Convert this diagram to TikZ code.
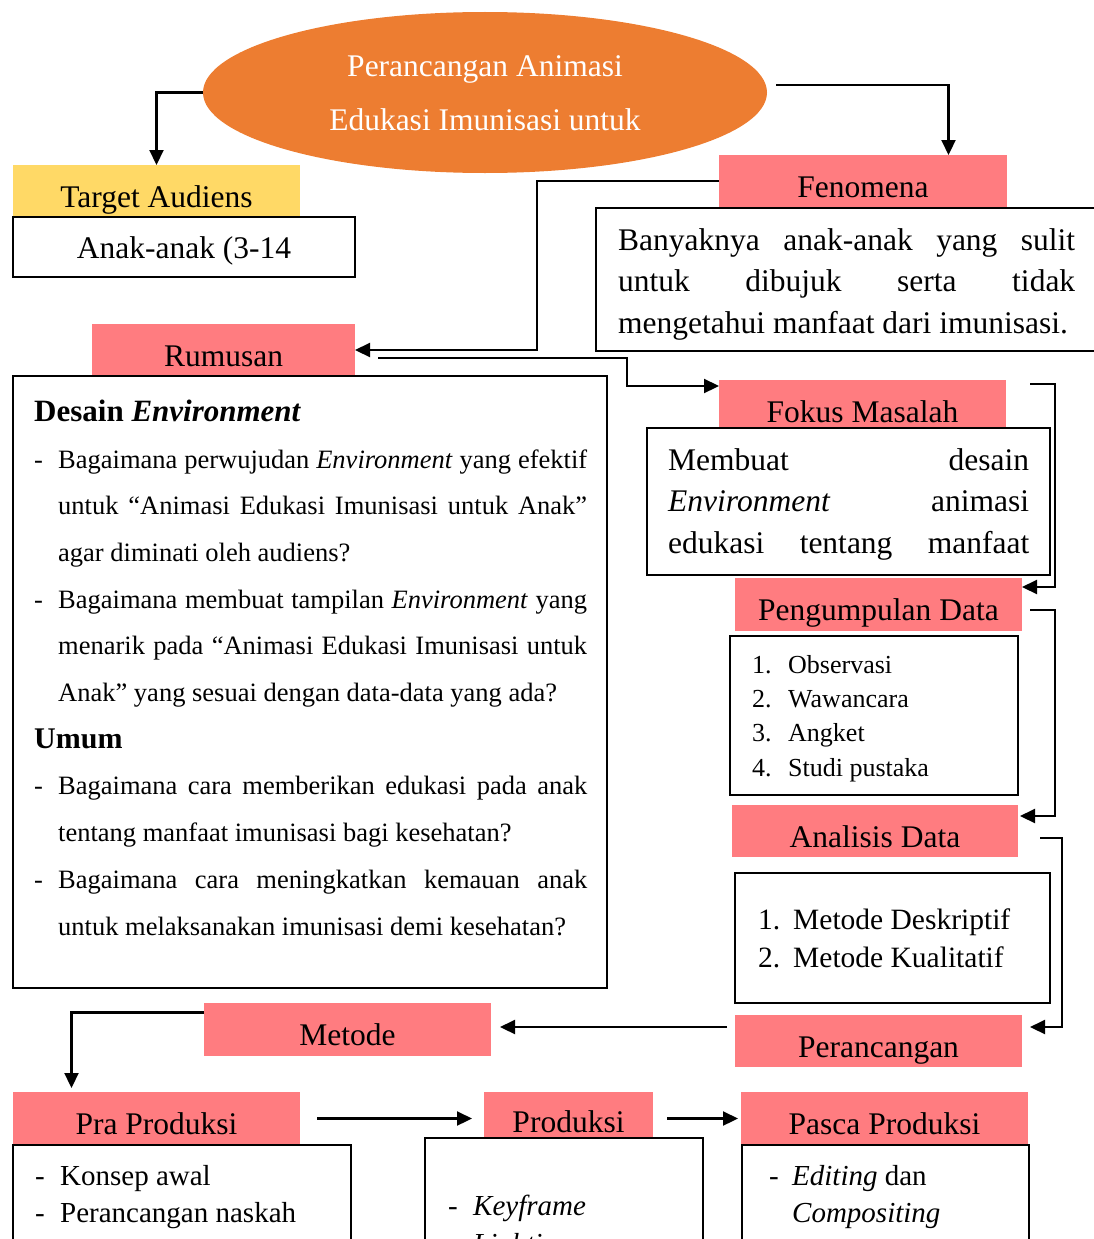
\documentclass[tikz,border=0pt]{standalone}
\usepackage{fontspec}
\setmainfont{Liberation Serif}
\usetikzlibrary{arrows.meta, shapes.geometric, calc}

\definecolor{oranye}{HTML}{ED7D31}
\definecolor{salmon}{HTML}{FF7C80}
\definecolor{kuning}{HTML}{FFD966}
\newcommand{\fsz}[2]{\fontsize{#1}{#2}\selectfont}

\begin{document}
\begin{tikzpicture}[x=1pt, y=-1pt,
    hdr/.style={fill=salmon, anchor=north west, minimum height=52pt, inner sep=0pt, outer sep=0pt,
                text height=32pt, text depth=0pt, font=\fsz{31.5}{38}},
    isi/.style={draw, line width=2.2pt, anchor=north west, inner sep=0pt, outer sep=0pt},
    teks/.style={anchor=base west, align=left, inner sep=0pt},
    conn/.style={line width=2.2pt, -{Triangle[length=15pt,width=14pt]}}]
    \useasboundingbox (0,0) rectangle (1093,1239);

    % judul (base = baseline of the last line)
    \node[ellipse, fill=oranye, minimum width=564pt, minimum height=161pt, inner sep=0pt] (judul) at (485,92.5) {};
    \node[font=\fsz{31.5}{54}, text=white, align=center, anchor=base, inner sep=0pt] (judulTeks) at (485,130) {Perancangan Animasi\\Edukasi Imunisasi untuk};

    % target audiens
    \node[hdr, fill=kuning, minimum width=287pt] (target) at (13,165) {Target Audiens};
    \node[isi, minimum width=342pt, minimum height=60pt, font=\fsz{31.5}{38}, text height=22pt, text depth=0pt] (anak) at (13,217) {Anak-anak (3-14};

    % fenomena
    \node[hdr, minimum width=288pt] (fenomena) at (719,155) {Fenomena};
    \node[isi, minimum width=510pt, minimum height=143pt] (fenomenaKotak) at (596,208) {};
    \node[teks, font=\fsz{31.5}{41.5}] (fenomenaTeks) at (618,333) {\makebox[457pt][s]{Banyaknya anak-anak yang sulit}\\
        \makebox[457pt][s]{untuk dibujuk serta tidak}\\
        mengetahui manfaat dari imunisasi.};

    % rumusan
    \node[hdr, minimum width=263pt] (rumusan) at (92,324) {Rumusan};
    \node[isi, minimum width=594pt, minimum height=612pt] (rumusanKotak) at (13,376) {};
    \node[teks, font=\fsz{26.5}{46.7}] (rumusanTeks) at (34,935) {{\fsz{31}{46.7}\bfseries Desain \textit{Environment}}\\
        \makebox[24pt][l]{-}\makebox[529pt][s]{Bagaimana perwujudan \textit{Environment} yang efektif}\\
        \hspace*{24pt}\makebox[529pt][s]{untuk “Animasi Edukasi Imunisasi untuk Anak”}\\
        \hspace*{24pt}agar diminati oleh audiens?\\
        \makebox[24pt][l]{-}\makebox[529pt][s]{Bagaimana membuat tampilan \textit{Environment} yang}\\
        \hspace*{24pt}\makebox[529pt][s]{menarik pada “Animasi Edukasi Imunisasi untuk}\\
        \hspace*{24pt}Anak” yang sesuai dengan data-data yang ada?\\
        {\fsz{30}{46.7}\bfseries Umum}\\
        \makebox[24pt][l]{-}\makebox[529pt][s]{Bagaimana cara memberikan edukasi pada anak}\\
        \hspace*{24pt}tentang manfaat imunisasi bagi kesehatan?\\
        \makebox[24pt][l]{-}\makebox[529pt][s]{Bagaimana cara meningkatkan kemauan anak}\\
        \hspace*{24pt}untuk melaksanakan imunisasi demi kesehatan?};

    % fokus masalah
    \node[hdr, minimum width=287pt, minimum height=48pt, text height=36pt] (fokus) at (719,380) {Fokus Masalah};
    \node[isi, minimum width=403pt, minimum height=147pt] (fokusKotak) at (647,428) {};
    \node[teks, font=\fsz{31.5}{41.5}] (fokusTeks) at (668,553) {\makebox[361pt][s]{Membuat desain}\\
        \makebox[361pt][s]{\textit{Environment} animasi}\\
        \makebox[361pt][s]{edukasi tentang manfaat}};

    % pengumpulan data
    \node[hdr, minimum width=287pt, minimum height=53pt] (kumpul) at (735,578) {Pengumpulan Data};
    \node[isi, minimum width=288pt, minimum height=159pt] (kumpulKotak) at (730,636) {};
    \node[teks, font=\fsz{26}{34.3}] (kumpulTeks) at (752,776) {\makebox[36pt][l]{1.}Observasi\\
        \makebox[36pt][l]{2.}Wawancara\\
        \makebox[36pt][l]{3.}Angket\\
        \makebox[36pt][l]{4.}Studi pustaka};

    % analisis data
    \node[hdr, minimum width=286pt] (analisis) at (732,805) {Analisis Data};
    \node[isi, minimum width=315pt, minimum height=130pt] (analisisKotak) at (735,873) {};
    \node[teks, font=\fsz{29.5}{38}] (analisisTeks) at (758,967) {\makebox[35pt][l]{1.}Metode Deskriptif\\
        \makebox[35pt][l]{2.}Metode Kualitatif};

    % perancangan dan metode
    \node[hdr, minimum width=287pt] (rancang) at (735,1015) {Perancangan};
    \node[hdr, minimum width=287pt, minimum height=53pt] (metode) at (204,1003) {Metode};

    % produksi
    \node[hdr, minimum width=287pt, minimum height=53pt] (pra) at (13,1092) {Pra Produksi};
    \node[isi, minimum width=338pt, minimum height=120pt] (praKotak) at (13,1145) {};
    \node[teks, font=\fsz{29}{37}] (praTeks) at (35,1222) {\makebox[25pt][l]{-}Konsep awal\\
        \makebox[25pt][l]{-}Perancangan naskah};
    \node[hdr, minimum width=169pt, minimum height=46pt, text height=35pt] (produksi) at (484,1092) {Produksi};
    \node[isi, minimum width=278pt, minimum height=120pt] (produksiKotak) at (425,1138) {};
    \node[teks, font=\fsz{29}{38}] (produksiTeks) at (448,1253) {\makebox[25pt][l]{-}\textit{Keyframe}\\
        \makebox[25pt][l]{-}\textit{Lighting}};
    \node[hdr, minimum width=287pt, minimum height=53pt] (pasca) at (741,1092) {Pasca Produksi};
    \node[isi, minimum width=287pt, minimum height=120pt] (pascaKotak) at (742,1145) {};
    \node[teks, font=\fsz{29}{37}] (pascaTeks) at (769,1222) {\makebox[23pt][l]{-}\textit{Editing} dan\\
        \hspace*{23pt}\textit{Compositing}};

    % konektor
    \coordinate (j1) at (776,85);
    \coordinate (r1) at ([xshift=23pt,yshift=-8pt]rumusan.east);
    \coordinate (f1) at ([xshift=24pt,yshift=20pt]fokus.east);
    \coordinate (k1) at ([xshift=8pt,yshift=-5.5pt]kumpul.east);
    \coordinate (a1) at ([xshift=22pt,yshift=-7pt]analisis.east);
    \coordinate (p1) at ([yshift=14pt]rancang.west);
    \draw[conn] (judul.west) -| (target.north);
    \draw[conn] (j1) -| ([xshift=85.5pt]fenomena.north);
    \draw[conn] (fenomena.west) -- (537,181) |- (rumusan.east);
    \draw[conn] (r1) -- (627,358) |- ([yshift=18pt]fokus.west);
    \draw[conn] (f1) -- (1055,384) |- ([yshift=17.5pt]kumpul.east);
    \draw[conn] (k1) -- (1055,610) |- ([xshift=2pt,yshift=15pt]analisis.east);
    \draw[conn] (a1) -- (1062,838) |- ([xshift=8pt,yshift=14pt]rancang.east);
    \draw[conn, shorten <=8pt, shorten >=9pt] (p1) -- (p1 -| metode.east);
    \draw[conn, shorten >=4pt] ([yshift=17pt]metode.west) -| ([xshift=-85pt]pra.north);
    \draw[conn, shorten <=17pt, shorten >=12pt] (pra.east) -- (pra.east -| produksi.west);
    \draw[conn, shorten <=14pt, shorten >=3pt] (produksi.east |- pra.east) -- (pra.east -| pasca.west);
\end{tikzpicture}
\end{document}
